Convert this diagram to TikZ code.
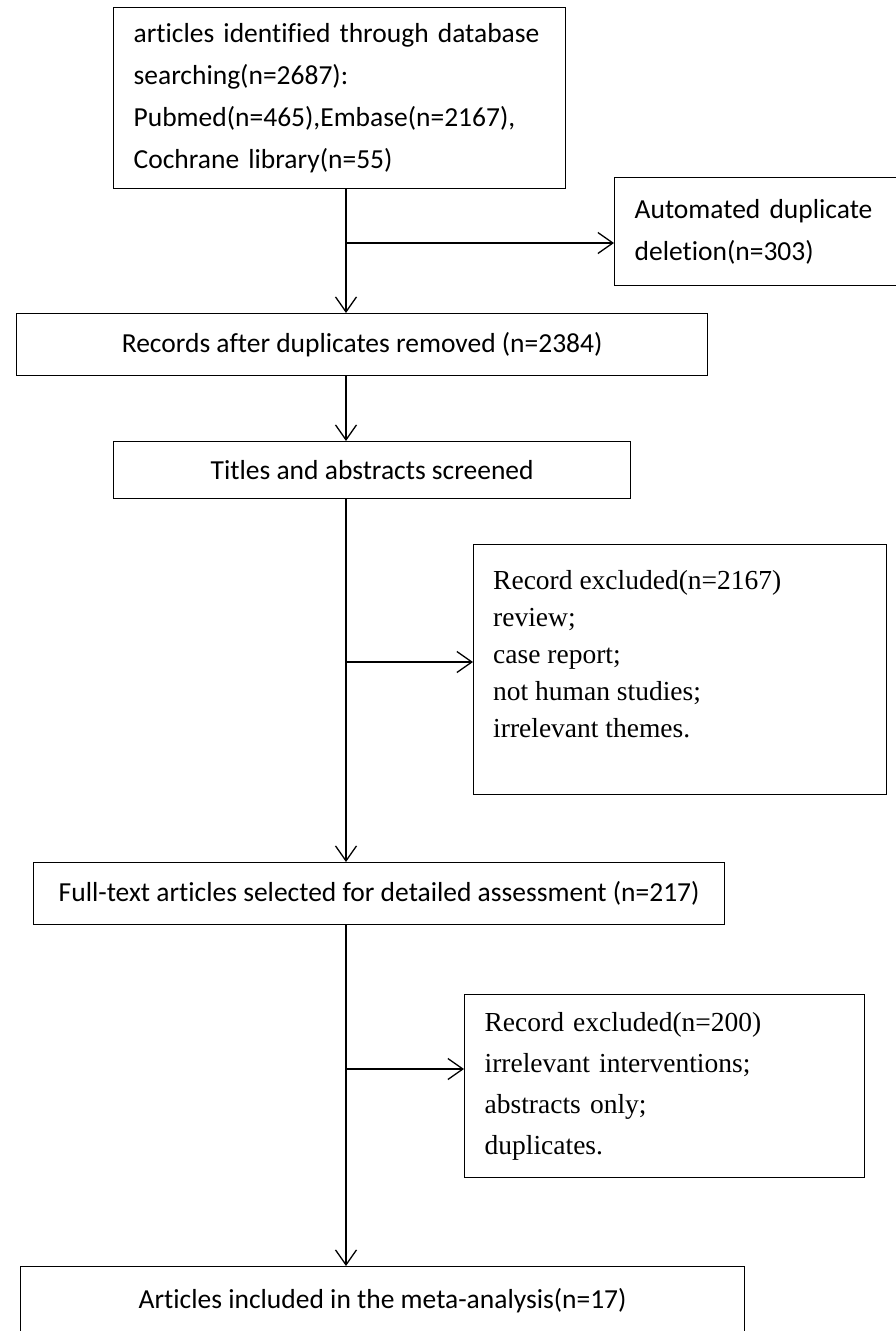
\documentclass[tikz,border=0pt]{standalone}
\usepackage{fontspec}
\setmainfont{Carlito}[Ligatures=NoCommon]
\newfontfamily\timesfont{Liberation Serif}[Ligatures=NoCommon]
\usetikzlibrary{arrows.meta}

\begin{document}
\begin{tikzpicture}
[
    x=1pt, y=-1pt,
    box/.style={draw, line width=1.3pt, inner sep=0pt, font=\fontsize{27.5}{42}\selectfont},
    serifbox/.style={box, font=\timesfont\fontsize{27.5}{41}\selectfont},
    arr/.style={line width=1.3pt, -{Straight Barb[length=15pt, width=21pt]}},
]
\useasboundingbox (0,0) rectangle (896,1331);
\clip (0,0) rectangle (896,1331);

% boxes of the main column
\node [box, anchor=north west, minimum width=452pt, minimum height=181pt, text width=412pt, align=left] (b1) at (113,7)
{\makebox[409pt][s]{articles identified through database}\\
searching(n=2687):\\
Pubmed(n=465),Embase(n=2167),\\
Cochrane library(n=55)};
\node [box, anchor=north west, minimum width=691pt, minimum height=62pt] (b3) at (16,313)
{Records after duplicates removed (n=2384)};
\node [box, anchor=north west, minimum width=517pt, minimum height=57pt] (b4) at (113,441)
{Titles and abstracts screened};
\node [box, anchor=north west, minimum width=691pt, minimum height=62pt] (b6) at (33,862)
{Full-text articles selected for detailed assessment (n=217)};
\node [box, anchor=north west, minimum width=724pt, minimum height=68pt] (b8) at (20,1266)
{Articles included in the meta-analysis(n=17)};

% side boxes
\node [box, anchor=north west, minimum width=300pt, minimum height=108pt, text width=260pt, align=left] (b2) at (614,177)
{\makebox[242pt][s]{Automated duplicate}\\
deletion(n=303)};
\node [box, anchor=north west, minimum width=413pt, minimum height=250pt] (b5) at (473,544) {};
\node [anchor=north west, inner sep=0pt, align=left, font=\timesfont\fontsize{27.5}{37}\selectfont] (b5t) at (493,570)
{Record excluded(n=2167)\\
review;\\
case report;\\
not human studies;\\
irrelevant themes.};
\node [serifbox, anchor=north west, minimum width=400pt, minimum height=183pt, text width=360pt, align=left] (b7) at (464,994)
{Record excluded(n=200)\\
irrelevant interventions;\\
abstracts only;\\
duplicates.};

% junctions on the trunk
\coordinate (j1) at (346,243);
\coordinate (j3) at (346,662);
\coordinate (j4) at (346,1069);

\draw [arr] (j1 |- b1.south) -- (j1 |- b3.north);
\draw [arr] (j1) -- (j1 -| b2.west);
\draw [arr] (j1 |- b3.south) -- (j1 |- b4.north);
\draw [arr] (j3 |- b4.south) -- (j3 |- b6.north);
\draw [arr] (j3) -- (j3 -| b5.west);
\draw [arr] (j4 |- b6.south) -- (j4 |- b8.north);
\draw [arr] (j4) -- (j4 -| b7.west);
\end{tikzpicture}
\end{document}
